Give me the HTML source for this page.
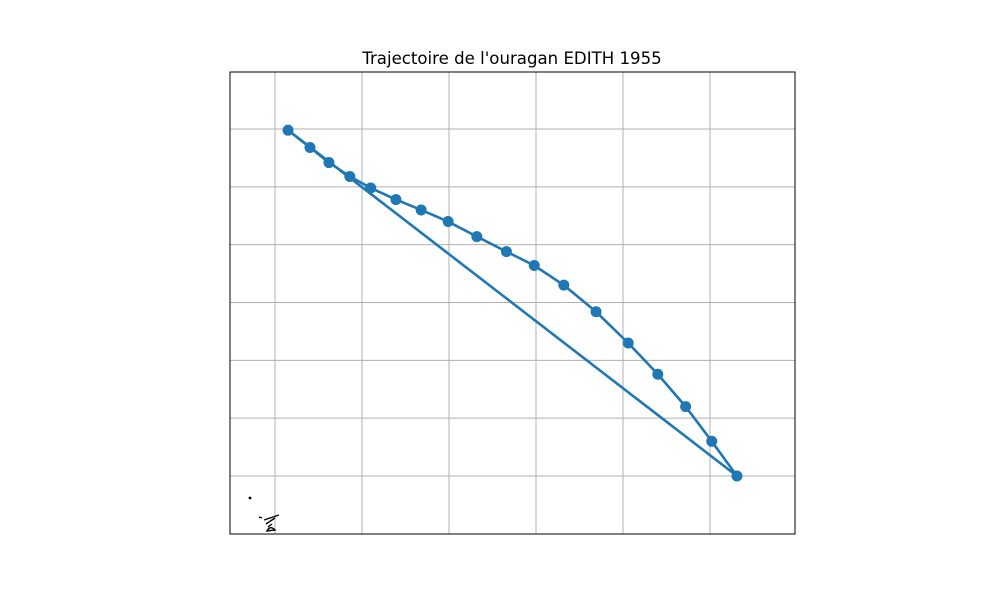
<!DOCTYPE html>
<html><head><meta charset="utf-8"><style>
body{margin:0;background:#fff;}
svg{display:block;font-family:"DejaVu Sans","Liberation Sans",sans-serif;}
</style></head><body>
<svg id="chart" width="1000" height="600" viewBox="0 0 1000 600">
<rect x="0" y="0" width="1000" height="600" fill="#fff"/>
<text x="512" y="64" text-anchor="middle" font-size="16.6" fill="#000">Trajectoire de l'ouragan EDITH 1955</text>
<g id="grid"></g>
<g fill="none" stroke="#000" stroke-width="1.4">
<circle cx="250" cy="498" r="0.7" fill="#000"/>
<path d="M259 517 L262 518 M264 520 L279 515 M266 524 L275 518 M268 527 L272 524 M267 531 Q270 525 275 530 Z"/>
</g>
<g id="track"></g>
<rect x="230" y="72" width="565" height="462" fill="none" stroke="#000" stroke-width="1"/>
</svg>
<script>
const lons=[-94.25,-92.99,-91.9,-90.7,-89.5,-88.05,-86.6,-85.05,-83.4,-81.7,-80.1,-78.4,-76.55,-74.7,-73.0,-71.4,-69.9,-68.45];
const lats=[44.9,43.4,42.1,40.9,39.9,38.9,38.0,37.0,35.7,34.4,33.2,31.5,29.2,26.5,23.8,21.0,18.0,15.0];
const lonGrid=[-95,-90,-85,-80,-75,-70];
const latGrid=[15,20,25,30,35,40,45];
const xS=lon=>275+(lon+95)*87/5;
const yS=lat=>476-(lat-15)*57.83/5;
const NS='http://www.w3.org/2000/svg';
const grid=document.getElementById('grid');
lonGrid.forEach(v=>{const l=document.createElementNS(NS,'line');
l.setAttribute('x1',xS(v));l.setAttribute('x2',xS(v));l.setAttribute('y1',72);l.setAttribute('y2',534);
l.setAttribute('stroke','#b0b0b0');l.setAttribute('stroke-width','1');


grid.appendChild(l);});
latGrid.forEach(v=>{const l=document.createElementNS(NS,'line');
l.setAttribute('x1',230);l.setAttribute('x2',795);l.setAttribute('y1',yS(v));l.setAttribute('y2',yS(v));
l.setAttribute('stroke','#b0b0b0');l.setAttribute('stroke-width','1');


grid.appendChild(l);});
const track=document.getElementById('track');
let pts=lons.map((v,i)=>xS(v)+','+yS(lats[i]));
pts.push(pts[0]);
const pl=document.createElementNS(NS,'polyline');
pl.setAttribute('points',pts.join(' '));
pl.setAttribute('fill','none');pl.setAttribute('stroke','#1f77b4');pl.setAttribute('stroke-width','2.6');


track.appendChild(pl);
lons.forEach((v,i)=>{const c=document.createElementNS(NS,'circle');
c.setAttribute('cx',xS(v));c.setAttribute('cy',yS(lats[i]));c.setAttribute('r','5.5');c.setAttribute('fill','#1f77b4');


track.appendChild(c);});
</script>
</body></html>
